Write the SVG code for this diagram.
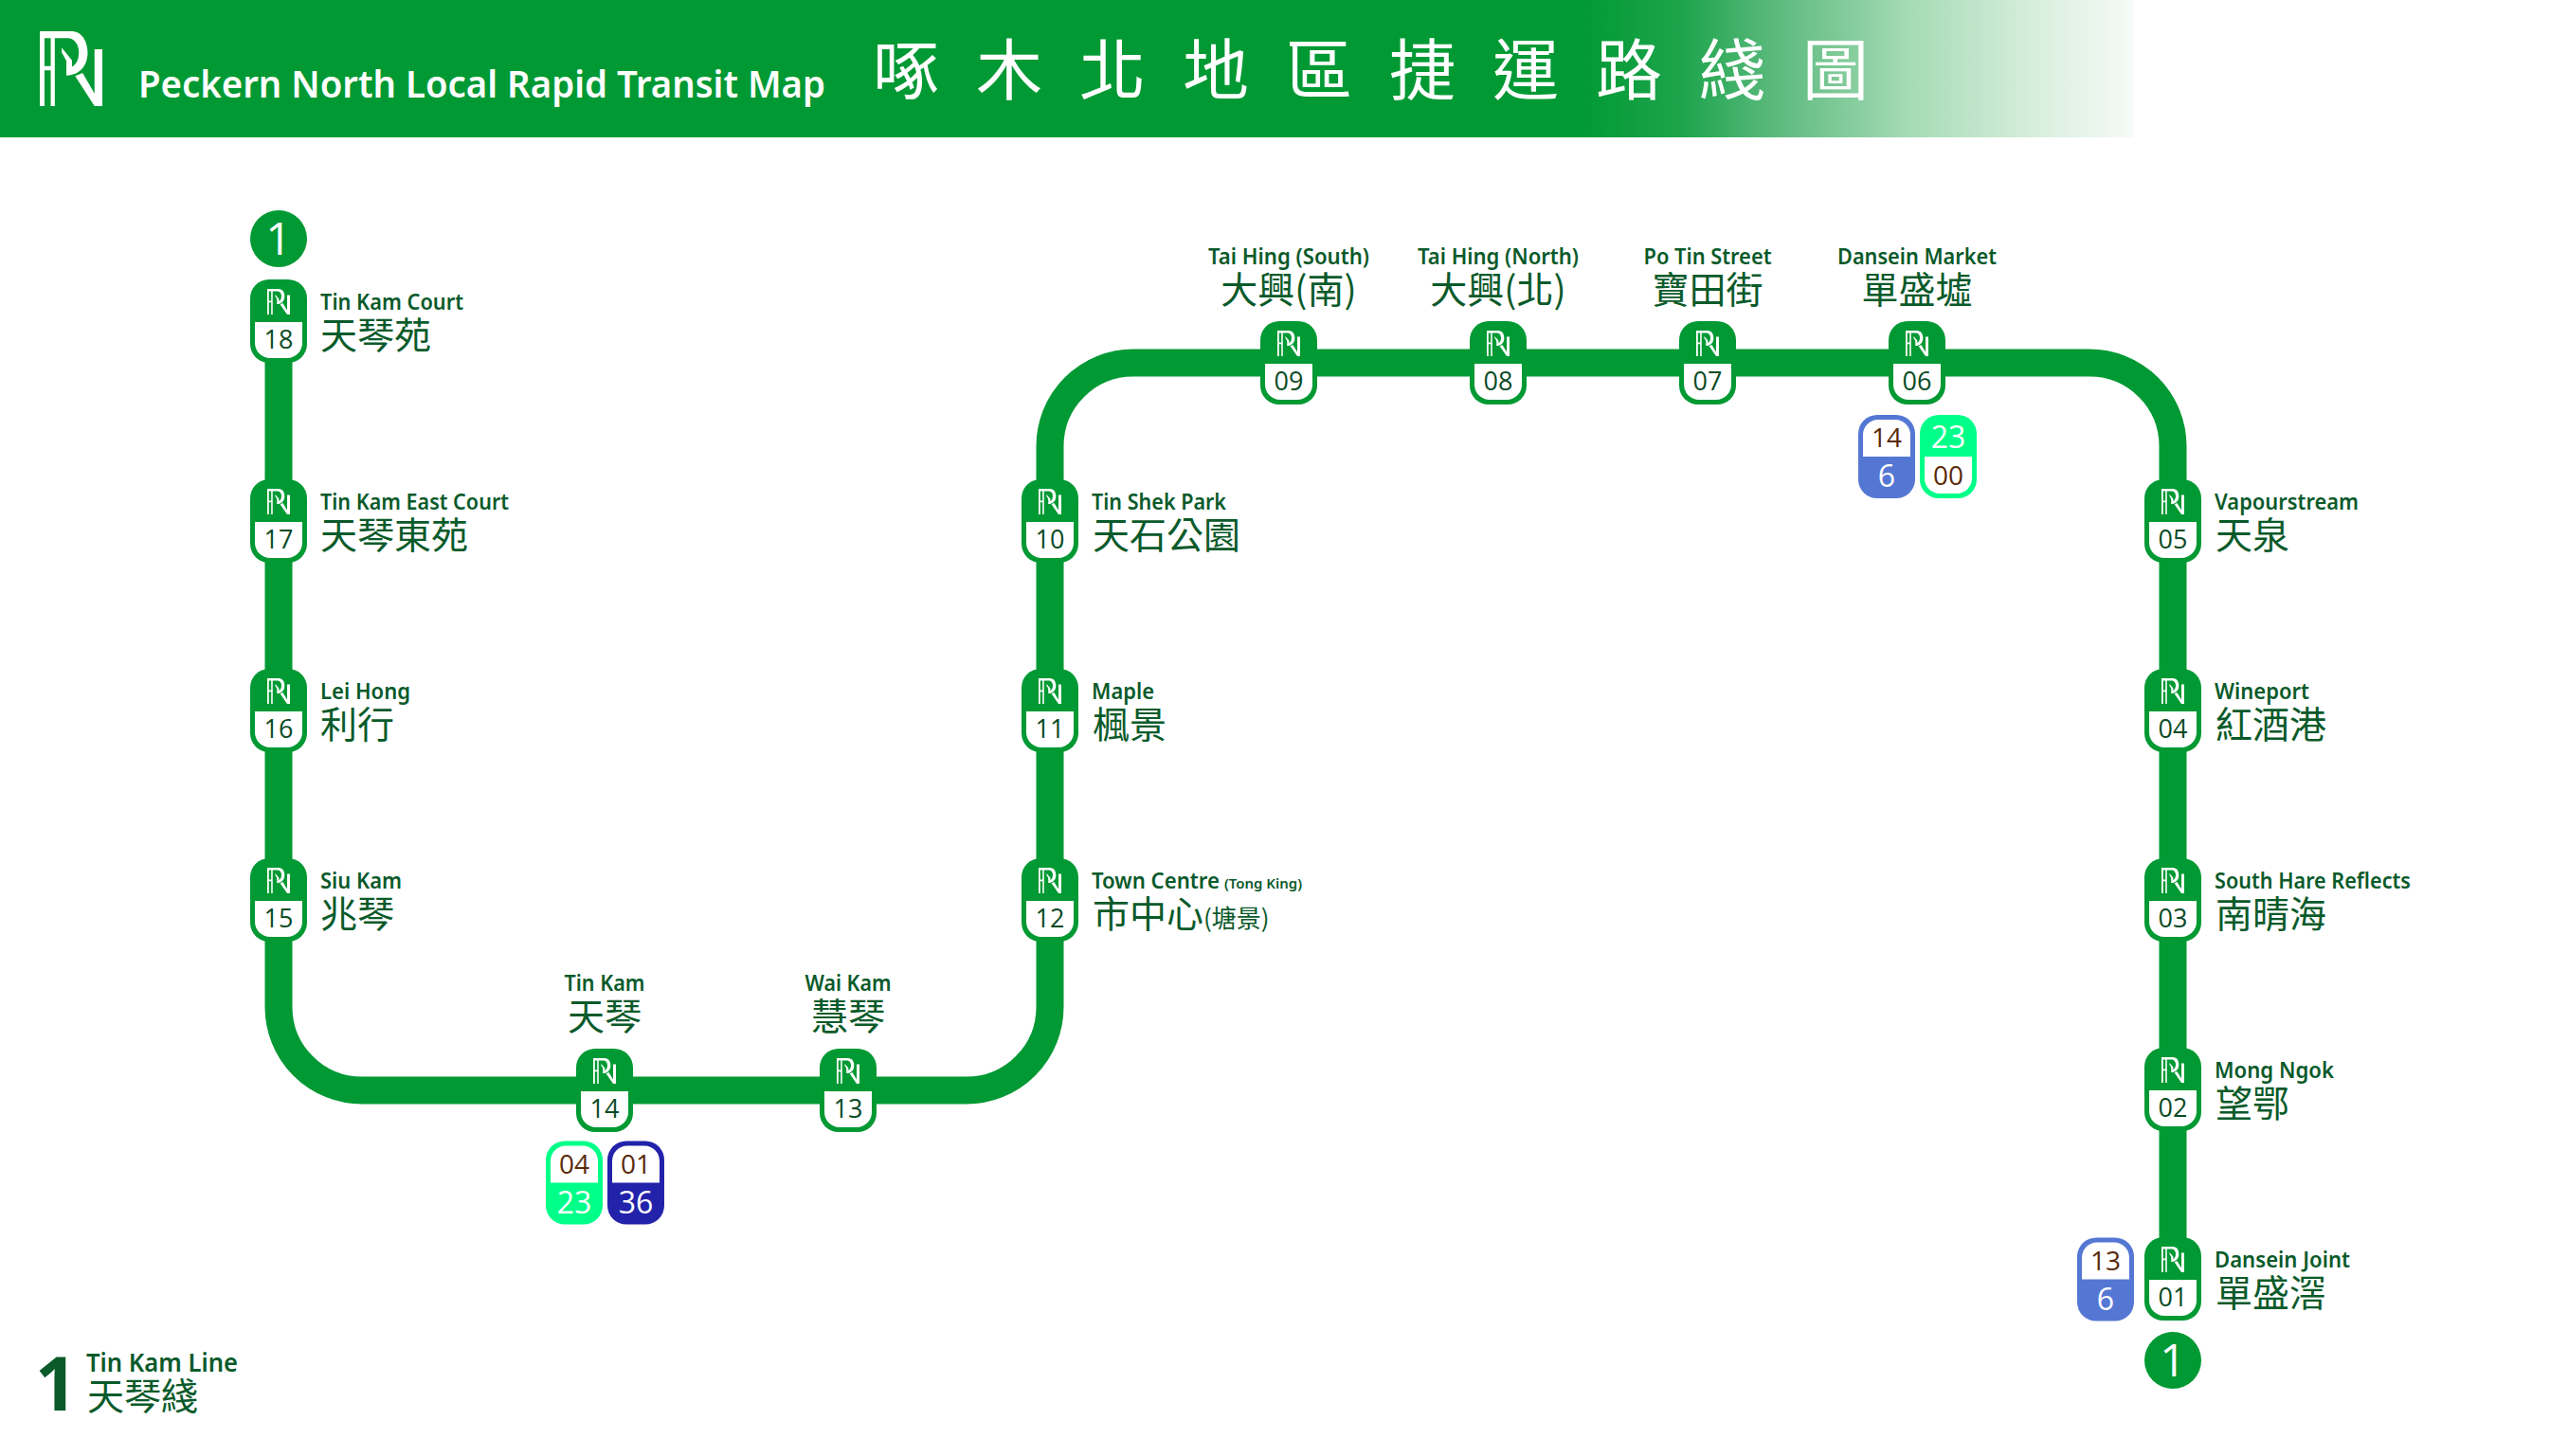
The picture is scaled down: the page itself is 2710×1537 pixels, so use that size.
<svg xmlns="http://www.w3.org/2000/svg" width="2710" height="1537" viewBox="0 0 2710 1537">
<style>
text{font-family:"Noto Sans","Open Sans","Noto Sans CJK TC",sans-serif}
.en{font-size:24px;font-weight:600;fill:#0a5a2a}
.zh{font-family:"Noto Sans CJK TC","Noto Sans",sans-serif;font-size:39px;font-weight:400;fill:#0a5a2a}
.c{text-anchor:middle}
.num{font-family:"Open Sans","Noto Sans",sans-serif;font-size:27px;fill:#0a4a25;text-anchor:middle}
.bt{font-family:"Open Sans","Noto Sans",sans-serif;font-size:28px;fill:#5a2a0a;text-anchor:middle}
.bw{font-family:"Open Sans","Noto Sans",sans-serif;font-size:32px;fill:#fff;text-anchor:middle}
.cap{font-family:"Open Sans","Noto Sans",sans-serif;font-size:48px;fill:#fff;text-anchor:middle}
</style>
<defs>
<linearGradient id="hdr" gradientUnits="userSpaceOnUse" x1="0" y1="0" x2="2251" y2="0">
<stop offset="0" stop-color="#009933"/><stop offset="0.74" stop-color="#009933"/><stop offset="0.79" stop-color="#1fa54d"/><stop offset="0.835" stop-color="#5fbb80"/><stop offset="0.895" stop-color="#a5dbb5"/><stop offset="0.955" stop-color="#d8eedd"/><stop offset="1" stop-color="#f6fbf7"/>
</linearGradient>
<symbol id="logo" viewBox="65 38 200 237" preserveAspectRatio="none">
<path fill="#fff" d="M65,275V38H165C200,38 218,70 218,105C218,150 190,178 150,178V155C175,155 190,135 190,105C190,80 175,60 155,60H113V275H100V162H80V275ZM80,60V148H100V60Z"/>
<path fill="#fff" d="M135,90L168,130V155H150V132L135,105Z"/>
<path fill="#fff" d="M178,180L202,170L240,235V95H265V275H240Z"/>
</symbol>
<g id="marker">
<rect x="-30" y="-44" width="60" height="88" rx="20" fill="#009933"/>
<path fill="#fff" d="M-25,1H25V23a16,16 0 0 1 -16,16H-9a16,16 0 0 1 -16,-16Z"/>
<use href="#logo" x="-12" y="-34" width="24" height="27"/>
</g>
<path id="wtop" fill="#fff" d="M-25,0V-23a16,16 0 0 1 16,-16H9a16,16 0 0 1 16,16V0Z"/>
<path id="wbot" fill="#fff" d="M-25,0V23a16,16 0 0 0 16,16H9a16,16 0 0 0 16,-16V0Z"/>
</defs>
<g id="header">
<rect x="0" y="0" width="2251" height="145" fill="url(#hdr)"/>
<use href="#logo" x="42" y="33" width="66" height="79"/>
<text x="146" y="103" font-size="40" font-weight="600" fill="#fff" textLength="725" lengthAdjust="spacingAndGlyphs">Peckern North Local Rapid Transit Map</text>
<text y="100" font-size="70" fill="#fff" text-anchor="middle" style="font-family:'Noto Sans CJK TC',sans-serif"><tspan x="956">啄</tspan><tspan x="1065">木</tspan><tspan x="1174">北</tspan><tspan x="1283">地</tspan><tspan x="1392">區</tspan><tspan x="1501">捷</tspan><tspan x="1610">運</tspan><tspan x="1719">路</tspan><tspan x="1828">綫</tspan><tspan x="1937">圖</tspan></text>
</g>
<g id="connectors">
<path d="M294,339V1063A88,88 0 0 0 382,1151H1020A88,88 0 0 0 1108,1063V471A88,88 0 0 1 1196,383H2205A88,88 0 0 1 2293,471V1350" fill="none" stroke="#009933" stroke-width="29"/>
</g>
<g id="terminus-top"><circle cx="294" cy="252" r="30" fill="#009933"/><text class="cap" x="294" y="269">1</text></g>
<g id="terminus-bottom"><circle cx="2293" cy="1436" r="30" fill="#009933"/><text class="cap" x="2293" y="1453">1</text></g>

<g id="st18"><use href="#marker" x="294" y="339"/><text class="num" x="294" y="368">18</text><text class="en" x="338" y="327" textLength="151" lengthAdjust="spacingAndGlyphs">Tin Kam Court</text><text class="zh" x="338" y="368">天琴苑</text></g>
<g id="st17"><use href="#marker" x="294" y="550"/><text class="num" x="294" y="579">17</text><text class="en" x="338" y="538" textLength="199" lengthAdjust="spacingAndGlyphs">Tin Kam East Court</text><text class="zh" x="338" y="579">天琴東苑</text></g>
<g id="st16"><use href="#marker" x="294" y="750"/><text class="num" x="294" y="779">16</text><text class="en" x="338" y="738" textLength="95" lengthAdjust="spacingAndGlyphs">Lei Hong</text><text class="zh" x="338" y="779">利行</text></g>
<g id="st15"><use href="#marker" x="294" y="950"/><text class="num" x="294" y="979">15</text><text class="en" x="338" y="938" textLength="86" lengthAdjust="spacingAndGlyphs">Siu Kam</text><text class="zh" x="338" y="979">兆琴</text></g>
<g id="st14"><use href="#marker" x="638" y="1151"/><text class="num" x="638" y="1180">14</text><text class="en c" x="638" y="1046" textLength="85" lengthAdjust="spacingAndGlyphs">Tin Kam</text><text class="zh c" x="638" y="1087">天琴</text></g>
<g id="st13"><use href="#marker" x="895" y="1151"/><text class="num" x="895" y="1180">13</text><text class="en c" x="895" y="1046" textLength="91" lengthAdjust="spacingAndGlyphs">Wai Kam</text><text class="zh c" x="895" y="1087">慧琴</text></g>
<g id="st12"><use href="#marker" x="1108" y="950"/><text class="num" x="1108" y="979">12</text><text class="en" x="1152" y="938" textLength="135" lengthAdjust="spacingAndGlyphs">Town Centre</text><text class="en" x="1292" y="938" style="font-size:15px" textLength="82" lengthAdjust="spacingAndGlyphs">(Tong King)</text><text class="zh" x="1153" y="979">市中心<tspan style="font-size:26px">(塘景)</tspan></text></g>
<g id="st11"><use href="#marker" x="1108" y="750"/><text class="num" x="1108" y="779">11</text><text class="en" x="1152" y="738" textLength="66" lengthAdjust="spacingAndGlyphs">Maple</text><text class="zh" x="1153" y="779">楓景</text></g>
<g id="st10"><use href="#marker" x="1108" y="550"/><text class="num" x="1108" y="579">10</text><text class="en" x="1152" y="538" textLength="142" lengthAdjust="spacingAndGlyphs">Tin Shek Park</text><text class="zh" x="1153" y="579">天石公園</text></g>
<g id="st09"><use href="#marker" x="1360" y="383"/><text class="num" x="1360" y="412">09</text><text class="en c" x="1360" y="279" textLength="170" lengthAdjust="spacingAndGlyphs">Tai Hing (South)</text><text class="zh c" x="1360" y="320">大興(南)</text></g>
<g id="st08"><use href="#marker" x="1581" y="383"/><text class="num" x="1581" y="412">08</text><text class="en c" x="1581" y="279" textLength="170" lengthAdjust="spacingAndGlyphs">Tai Hing (North)</text><text class="zh c" x="1581" y="320">大興(北)</text></g>
<g id="st07"><use href="#marker" x="1802" y="383"/><text class="num" x="1802" y="412">07</text><text class="en c" x="1802" y="279" textLength="135" lengthAdjust="spacingAndGlyphs">Po Tin Street</text><text class="zh c" x="1802" y="320">寶田街</text></g>
<g id="st06"><use href="#marker" x="2023" y="383"/><text class="num" x="2023" y="412">06</text><text class="en c" x="2023" y="279" textLength="168" lengthAdjust="spacingAndGlyphs">Dansein Market</text><text class="zh c" x="2023" y="320">單盛墟</text></g>
<g id="st05"><use href="#marker" x="2293" y="550"/><text class="num" x="2293" y="579">05</text><text class="en" x="2337" y="538" textLength="152" lengthAdjust="spacingAndGlyphs">Vapourstream</text><text class="zh" x="2338" y="579">天泉</text></g>
<g id="st04"><use href="#marker" x="2293" y="750"/><text class="num" x="2293" y="779">04</text><text class="en" x="2337" y="738" textLength="100" lengthAdjust="spacingAndGlyphs">Wineport</text><text class="zh" x="2338" y="779">紅酒港</text></g>
<g id="st03"><use href="#marker" x="2293" y="950"/><text class="num" x="2293" y="979">03</text><text class="en" x="2337" y="938" textLength="207" lengthAdjust="spacingAndGlyphs">South Hare Reflects</text><text class="zh" x="2338" y="979">南晴海</text></g>
<g id="st02"><use href="#marker" x="2293" y="1150"/><text class="num" x="2293" y="1179">02</text><text class="en" x="2337" y="1138" textLength="126" lengthAdjust="spacingAndGlyphs">Mong Ngok</text><text class="zh" x="2338" y="1179">望鄂</text></g>
<g id="st01"><use href="#marker" x="2293" y="1350"/><text class="num" x="2293" y="1379">01</text><text class="en" x="2337" y="1338" textLength="143" lengthAdjust="spacingAndGlyphs">Dansein Joint</text><text class="zh" x="2338" y="1379">單盛滘</text></g>

<g id="badge-14-a" transform="translate(606 1248.500)"><rect x="-30" y="-44" width="60" height="88" rx="20" fill="#00ff88"/><use href="#wtop"/><text class="bt" y="-10">04</text><text class="bw" y="32">23</text></g>
<g id="badge-14-b" transform="translate(671 1248.500)"><rect x="-30" y="-44" width="60" height="88" rx="20" fill="#2222aa"/><use href="#wtop"/><text class="bt" y="-10">01</text><text class="bw" y="32">36</text></g>
<g id="badge-06-a" transform="translate(1991 482)"><rect x="-30" y="-44" width="60" height="88" rx="20" fill="#5577d4"/><use href="#wtop"/><text class="bt" y="-10">14</text><text class="bw" y="32">6</text></g>
<g id="badge-06-b" transform="translate(2056 482)"><rect x="-30" y="-44" width="60" height="88" rx="20" fill="#00ff88"/><use href="#wbot"/><text class="bw" y="-9">23</text><text class="bt" y="30">00</text></g>
<g id="badge-01" transform="translate(2222 1350.500)"><rect x="-30" y="-44" width="60" height="88" rx="20" fill="#5577d4"/><use href="#wtop"/><text class="bt" y="-10">13</text><text class="bw" y="32">6</text></g>

<g id="legend">
<text x="37" y="1489" font-size="78" font-weight="700" fill="#0a5a2a" style="font-family:'Open Sans',sans-serif">1</text>
<text class="en" x="91" y="1448" style="font-size:27px" textLength="160" lengthAdjust="spacingAndGlyphs">Tin Kam Line</text>
<text class="zh" x="92" y="1488">天琴綫</text>
</g>
</svg>
